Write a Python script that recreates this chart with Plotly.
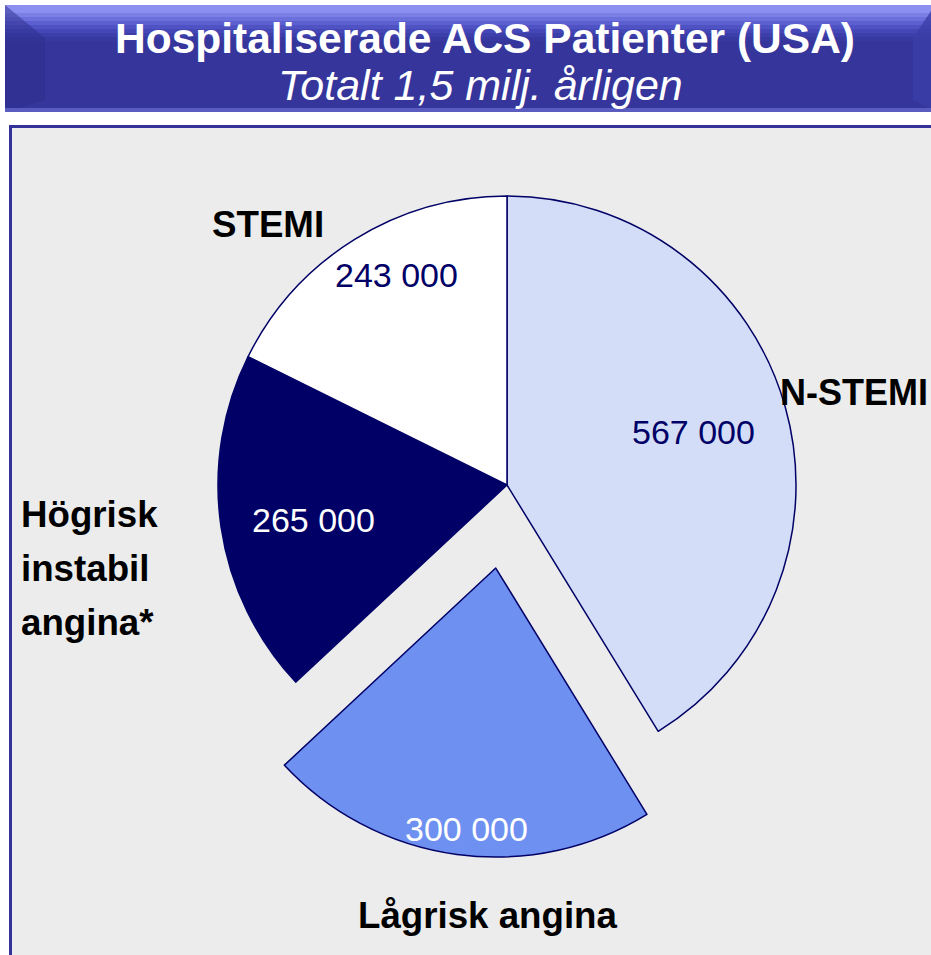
import math
import plotly.graph_objects as go

# ---------------- data ----------------
categories = ["N-STEMI", "Lågrisk angina", "Högrisk instabil angina*", "STEMI"]
values = [567000, 300000, 265000, 243000]
title_text = "Hospitaliserade ACS Patienter (USA)"
subtitle_text = "Totalt 1,5 milj. årligen"

# ---------------- style ----------------
slice_colors = ["#d3ddf8", "#6e90f0", "#000066", "#ffffff"]
pulls = [0, 0.29, 0, 0]
value_colors = ["#000066", "#ffffff", "#ffffff", "#000066"]
label_r = [0.67, 0.91, 0.68, 0.82]       # radial position of value labels (fraction of radius)
label_dang = [0, -1, -2, 4]              # small angular tweaks (degrees)

W, H = 931, 955
CX, CY, R = 507, 485, 289
FONT = "Liberation Sans, Arial, sans-serif"
NAVY = "#333399"


def px(x):
    return x / W


def py(y):
    return 1 - y / H


box = 2 * R * (1 + max(pulls))

fig = go.Figure()
fig.add_trace(go.Pie(
    labels=categories,
    values=values,
    sort=False,
    direction="clockwise",
    rotation=0,
    pull=pulls,
    marker=dict(colors=slice_colors, line=dict(color="#000066", width=1.5)),
    textinfo="none",
    hoverinfo="label+value",
    showlegend=False,
    domain=dict(x=[px(CX - box / 2), px(CX + box / 2)],
                y=[py(CY + box / 2), py(CY - box / 2)]),
))

annotations = []

# value labels computed from the slice angles
total = sum(values)
start = 0.0
for v, pl, r, da, col in zip(values, pulls, label_r, label_dang, value_colors):
    frac = v / total
    mid = math.radians((start + frac / 2) * 360 + da)
    d = (pl + r) * R
    x = CX + d * math.sin(mid)
    y = CY - d * math.cos(mid)
    annotations.append(dict(
        x=px(x), y=py(y), xref="paper", yref="paper",
        text=f"{v:,}".replace(",", " "), showarrow=False,
        font=dict(family=FONT, size=34, color=col),
        xanchor="center", yanchor="middle"))
    start += frac

# category labels
bold = dict(family=FONT, size=36.7, color="#000000")
annotations.append(dict(x=px(268), y=py(225), xref="paper", yref="paper",
                        text=f"<b>{categories[3]}</b>", showarrow=False,
                        font=bold, xanchor="center", yanchor="middle"))
annotations.append(dict(x=px(778), y=py(392), xref="paper", yref="paper",
                        text=f"<b>{categories[0]}</b>", showarrow=False,
                        font=dict(family=FONT, size=36, color="#000000"),
                        xanchor="left", yanchor="middle"))
annotations.append(dict(x=px(488), y=py(915), xref="paper", yref="paper",
                        text=f"<b>{categories[1]}</b>", showarrow=False,
                        font=bold, xanchor="center", yanchor="middle"))
for i, word in enumerate(categories[2].split(" ")):
    annotations.append(dict(x=px(19), y=py(514 + 54 * i), xref="paper", yref="paper",
                            text=f"<b>{word}</b>", showarrow=False,
                            font=bold, xanchor="left", yanchor="middle"))

# title texts
annotations.append(dict(x=px(485), y=py(38), xref="paper", yref="paper",
                        text=f"<b>{title_text}</b>", showarrow=False,
                        font=dict(family=FONT, size=42.5, color="#ffffff"),
                        xanchor="center", yanchor="middle"))
annotations.append(dict(x=px(480), y=py(85), xref="paper", yref="paper",
                        text=f"<i>{subtitle_text}</i>", showarrow=False,
                        font=dict(family=FONT, size=43, color="#ffffff"),
                        xanchor="center", yanchor="middle"))

# ---------------- decorative shapes ----------------
shapes = []
# title box base
shapes.append(dict(type="rect", xref="paper", yref="paper",
                   x0=px(5), x1=px(980), y0=py(112), y1=py(5),
                   fillcolor="#35359b", line=dict(width=0), layer="below"))
# top gradient band
grad = ["#8a8ff0", "#7a7fe6", "#6a6fdb", "#5b5fcf", "#4e52c2", "#4447b5", "#3c3faa", "#3739a1"]
for i, c in enumerate(grad):
    shapes.append(dict(type="rect", xref="paper", yref="paper",
                       x0=px(5), x1=px(980), y0=py(9 + 4 * (i + 1)), y1=py(5 + 4 * i + (0 if i == 0 else 4)),
                       fillcolor=c, line=dict(width=0), layer="below"))
# left bevel
shapes.append(dict(type="path", xref="paper", yref="paper",
                   path=f"M {px(5)},{py(5)} L {px(45)},{py(38)} L {px(45)},{py(100)} L {px(5)},{py(112)} Z",
                   fillcolor="#2e2e8e", line=dict(width=0), layer="below", opacity=0.5))
# right bevel
shapes.append(dict(type="path", xref="paper", yref="paper",
                   path=f"M {px(935)},{py(5)} L {px(913)},{py(38)} L {px(913)},{py(100)} L {px(935)},{py(112)} Z",
                   fillcolor="#3c3fa8", line=dict(width=0), layer="below", opacity=0.8))
# bottom highlight
shapes.append(dict(type="rect", xref="paper", yref="paper",
                   x0=px(5), x1=px(980), y0=py(112), y1=py(108),
                   fillcolor="#5a5cc0", line=dict(width=0), layer="below"))
# grey panel
shapes.append(dict(type="rect", xref="paper", yref="paper",
                   x0=px(10.5), x1=px(960), y0=py(990), y1=py(126.5),
                   fillcolor="#ececec", line=dict(color=NAVY, width=3), layer="below"))

fig.update_layout(
    width=W, height=H,
    margin=dict(l=0, r=0, t=0, b=0),
    paper_bgcolor="#ffffff",
    plot_bgcolor="#ffffff",
    annotations=annotations,
    shapes=shapes,
    showlegend=False,
)

# remove the default page margin so the figure fills the 931x955 window exactly
fig.write_html(
    "out.html",
    config={"displayModeBar": False},
    post_script="document.body.style.margin='0px';document.body.style.overflow='hidden';",
)
